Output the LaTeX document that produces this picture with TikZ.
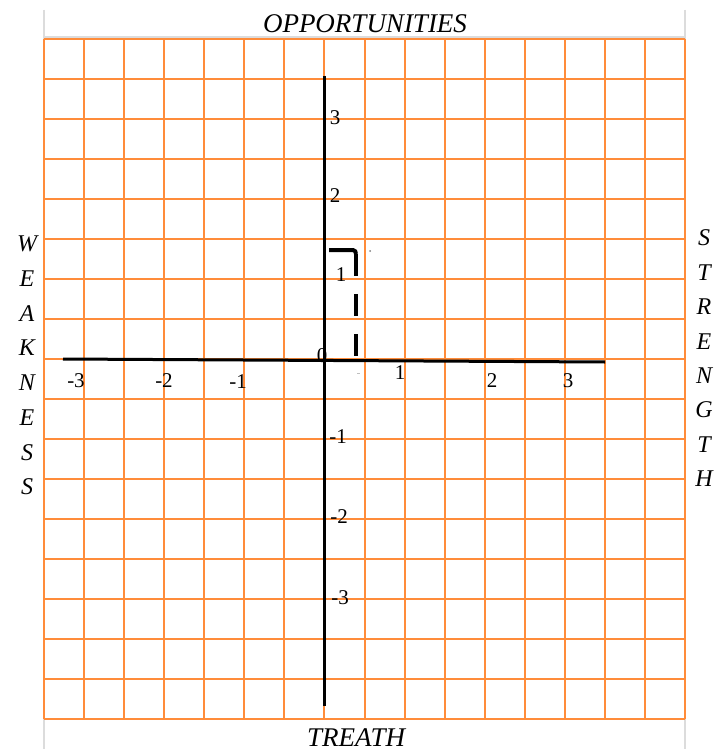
\documentclass[tikz,border=0pt]{standalone}
\usepackage{fontspec}
\setmainfont{Liberation Serif}
\definecolor{gridorange}{RGB}{255,140,58}
\definecolor{tablegray}{RGB}{220,220,220}
\tikzset{
  gridline/.style={draw=gridorange, line width=2pt},
  tableline/.style={draw=tablegray, line width=2pt},
  axisline/.style={draw=black, line width=3pt},
  sideletter/.style={font=\fontsize{24}{24}\selectfont\itshape, inner sep=0pt},
  titletext/.style={font=\fontsize{27}{27}\selectfont\itshape, inner sep=0pt},
  ticklabel/.style={font=\fontsize{21}{21}\selectfont, inner sep=0pt},
  markline/.style={draw=black, line width=4pt}
}
\begin{document}
\begin{tikzpicture}[x=1pt,y=-1pt]
\useasboundingbox (0,0) rectangle (714,749);
\fill[white] (0,0) rectangle (714,749);
% table borders
\draw[tableline] (44,10) -- (44,749);
\draw[tableline] (685,10) -- (685,749);
\draw[tableline] (44,37) -- (685,37);
% grid
\foreach \i in {0,...,16} {
  \draw[gridline] ({44+40.0625*\i},39) -- ({44+40.0625*\i},719);
}
\foreach \j in {0,...,17} {
  \draw[gridline] (44,{39+40*\j}) -- (685,{39+40*\j});
}
% axes
\coordinate (ytop) at (324.5,76);
\coordinate (ybot) at (324.5,706);
\coordinate (xleft) at (63,359);
\coordinate (xright) at (605,362);
\draw[axisline] (ytop) -- (ybot);
\draw[axisline] (xleft) -- (xright);
% titles
\node[titletext] (opp) at (365,24) {OPPORTUNITIES};
\node[titletext] (thr) at (356,738) {TREATH};
% side letters
\foreach \ch [count=\k from 0] in {W,E,A,K,N,E,S,S} {
  \node[sideletter] (w\k) at (27,{244+34.7*\k}) {\ch};
}
\foreach \ch [count=\k from 0] in {S,T,R,E,N,G,T,H} {
  \node[sideletter] (s\k) at (704,{238+34.4*\k}) {\ch};
}
% y tick labels
\node[ticklabel] (y3) at (335,118) {3};
\node[ticklabel] (y2) at (335,196) {2};
\node[ticklabel] (y1) at (341,275) {1};
\node[ticklabel] (y0) at (322,356) {0};
\node[ticklabel] (ym1) at (338,437) {-1};
\node[ticklabel] (ym2) at (339,517) {-2};
\node[ticklabel] (ym3) at (340,598) {-3};
% x tick labels
\node[ticklabel] (xm3) at (76,381) {-3};
\node[ticklabel] (xm2) at (164,381) {-2};
\node[ticklabel] (xm1) at (238,382) {-1};
\node[ticklabel] (x1) at (400,373) {1};
\node[ticklabel] (x2) at (492,381) {2};
\node[ticklabel] (x3) at (568,381) {3};
% marked point
\coordinate (pa) at (329,250);
\coordinate (pb) at (353,250);
\coordinate (pc) at (356,254);
\coordinate (pd) at (356,356);
\draw[markline] (pa) -- (pb) to[out=0,in=90] (pc);
\draw[markline, dash pattern=on 22pt off 18pt] (pc) -- (pd);
\fill[gray] (370,251) circle (1pt);
\fill[lightgray] (357,373) rectangle (360,374);
\end{tikzpicture}
\end{document}
